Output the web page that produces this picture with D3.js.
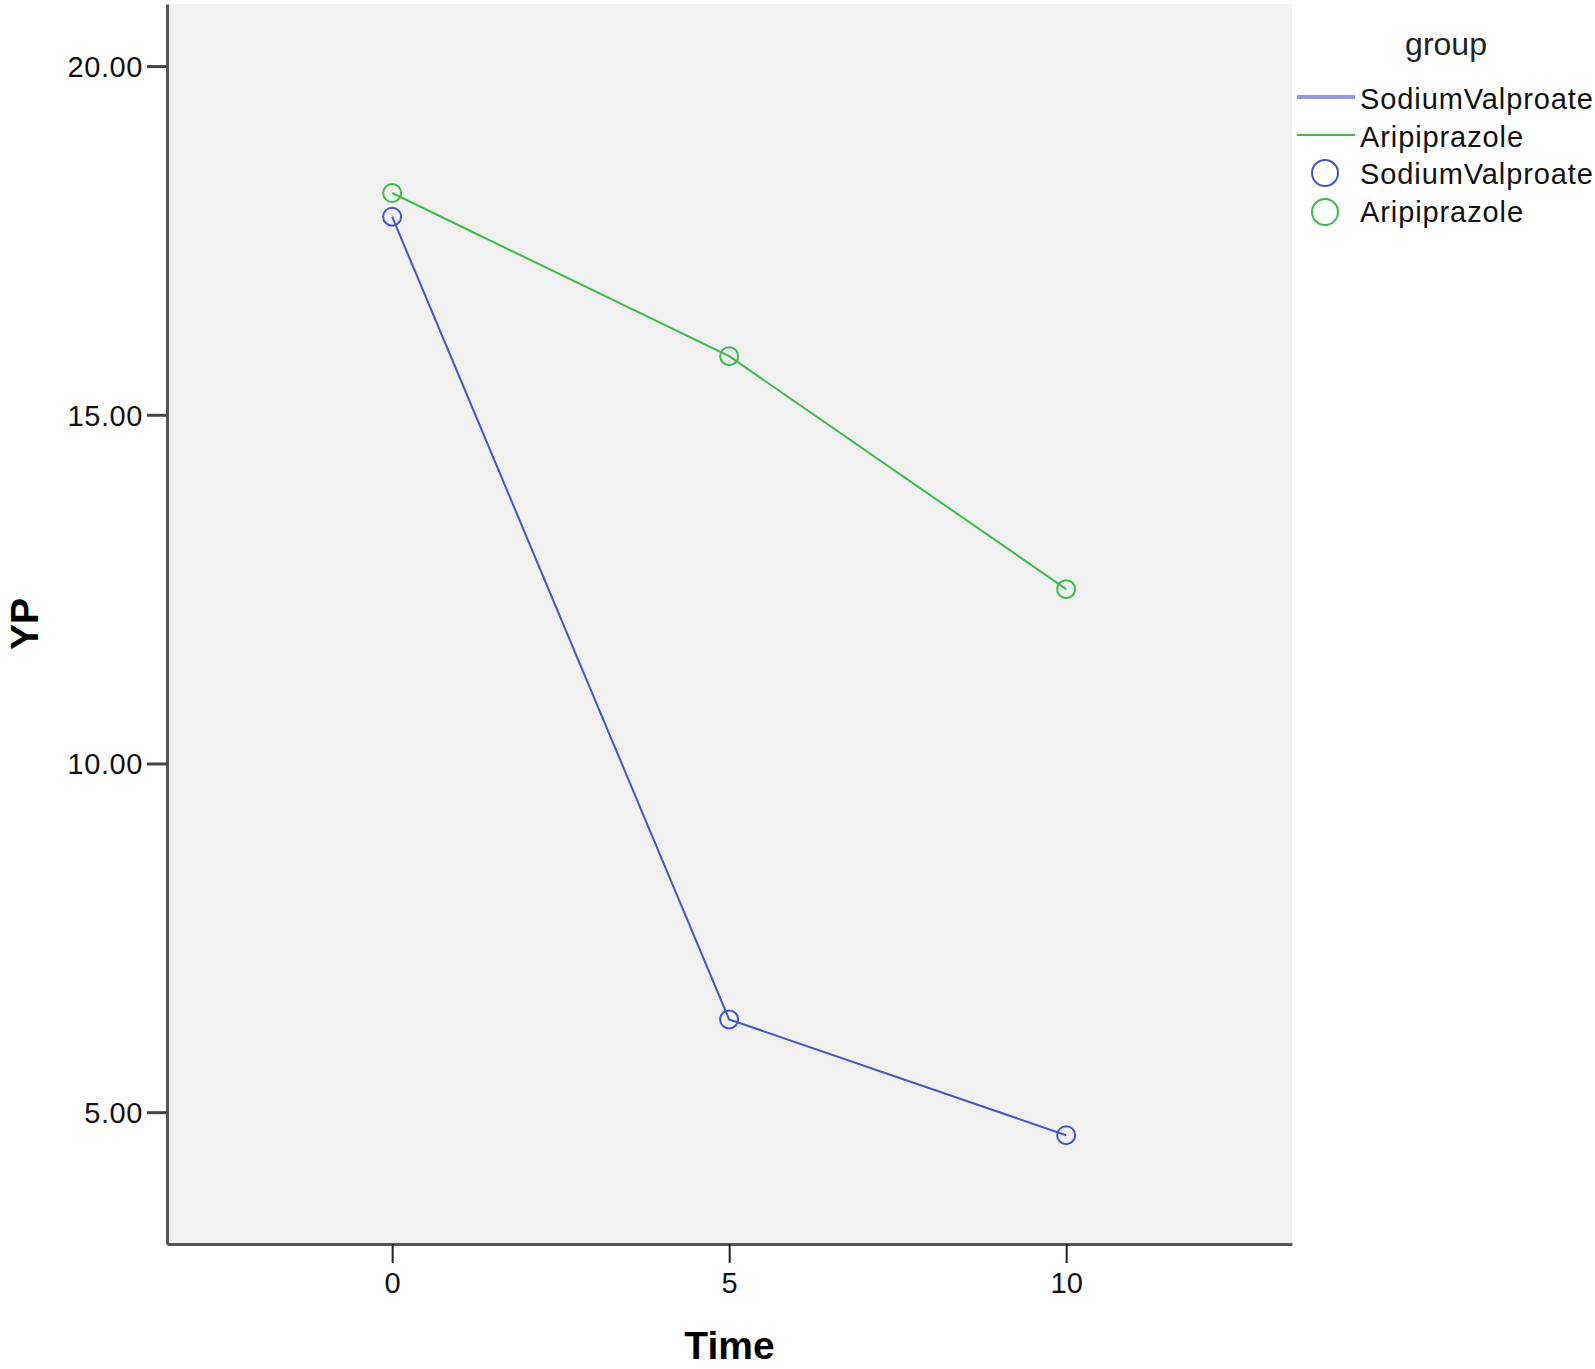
<!DOCTYPE html>
<html>
<head>
<meta charset="utf-8">
<script src="https://cdn.jsdelivr.net/npm/d3@7"></script>
<style>
  body { margin: 0; background: #fff; }
  svg { display: block; font-family: "Liberation Sans", Arial, sans-serif; }
</style>
</head>
<body>
<div id="chart"></div>
<script>
// values
const times = [0, 5, 10]
const valproate = [17.84, 6.33, 4.67]
const aripiprazole = [18.18, 15.84, 12.50]
const yTicks = [5, 10, 15, 20]
const xTicks = [0, 5, 10]
const groups = ["SodiumValproate", "Aripiprazole"]

const width = 1595, height = 1369
const margin = {top: 4, right: 303, bottom: 125, left: 167}
const blue = "#4256c4", green = "#3dba4a"

const svg = d3.select("#chart").append("svg")
    .attr("width", width)
    .attr("height", height)

let x = d3.scaleLinear()
    .domain([-3.34, 13.35])
    .range([margin.left, width - margin.right])

let y = d3.scaleLinear()
    .domain([3.11, 20.89])
    .range([height - margin.bottom, margin.top])

// plot background
svg.append("rect")
    .attr("x", margin.left)
    .attr("y", margin.top)
    .attr("width", width - margin.right - margin.left)
    .attr("height", height - margin.bottom - margin.top)
    .attr("fill", "#f0f0f0")

// axes
let yAxis = svg.append("g")
    .attr("transform", `translate(${margin.left},0)`)
    .call(d3.axisLeft(y).tickValues(yTicks).tickFormat(d3.format(".2f")).tickSize(20).tickSizeOuter(0))
yAxis.select(".domain").attr("stroke", "#555").attr("stroke-width", 3)
yAxis.selectAll(".tick line").attr("stroke", "#444").attr("stroke-width", 3)
yAxis.selectAll(".tick text")
    .attr("font-size", 29).attr("fill", "#111").attr("x", -24).attr("dy", "0.36em")
    .attr("letter-spacing", 0.6)
    .attr("font-family", "'Liberation Sans', Arial, sans-serif")

let xAxis = svg.append("g")
    .attr("transform", `translate(0,${height - margin.bottom})`)
    .call(d3.axisBottom(x).tickValues(xTicks).tickSize(19).tickSizeOuter(0))
xAxis.select(".domain").attr("stroke", "#555").attr("stroke-width", 3)
xAxis.selectAll(".tick line").attr("stroke", "#222").attr("stroke-width", 2)
xAxis.selectAll(".tick text")
    .attr("font-size", 29).attr("fill", "#111").attr("y", 28).attr("dy", "0.71em")
    .attr("font-family", "'Liberation Sans', Arial, sans-serif")

// axis titles
svg.append("text")
    .attr("x", (x(-3.34) + x(13.35)) / 2 + 0)
    .attr("y", 1359)
    .attr("text-anchor", "middle")
    .attr("font-size", 39).attr("font-weight", "bold")
    .text("Time")

svg.append("text")
    .attr("transform", `translate(38,${(y(3.11) + y(20.89)) / 2}) rotate(-90)`)
    .attr("text-anchor", "middle")
    .attr("font-size", 39).attr("font-weight", "bold")
    .text("YP")

// series
let series = [
    {name: groups[0], values: valproate, color: blue},
    {name: groups[1], values: aripiprazole, color: green}
]

let line = d3.line()
    .x(function(d) { return x(d[0]) })
    .y(function(d) { return y(d[1]) })

series.forEach(function(s) {
    let pts = times.map(function(t, i) { return [t, s.values[i]] })
    svg.append("path")
        .datum(pts)
        .attr("d", line)
        .attr("fill", "none")
        .attr("stroke", s.color)
        .attr("stroke-width", 2)
    svg.selectAll(null)
        .data(pts)
        .enter()
        .append("circle")
            .attr("cx", function(d) { return x(d[0]) })
            .attr("cy", function(d) { return y(d[1]) })
            .attr("r", 9)
            .attr("fill", "none")
            .attr("stroke", s.color)
            .attr("stroke-width", 2)
})

// legend
let lg = svg.append("g")
lg.append("text")
    .attr("x", 1446).attr("y", 55)
    .attr("text-anchor", "middle")
    .attr("font-size", 32).attr("fill", "#222")
    .text("group")

lg.append("line")
    .attr("x1", 1297).attr("x2", 1355).attr("y1", 97).attr("y2", 97)
    .attr("stroke", "#8d9bd8").attr("stroke-width", 4)
lg.append("line")
    .attr("x1", 1297).attr("x2", 1355).attr("y1", 135).attr("y2", 135)
    .attr("stroke", green).attr("stroke-width", 2)
lg.append("circle")
    .attr("cx", 1325).attr("cy", 173).attr("r", 13)
    .attr("fill", "none").attr("stroke", blue).attr("stroke-width", 2)
lg.append("circle")
    .attr("cx", 1325).attr("cy", 212).attr("r", 13)
    .attr("fill", "none").attr("stroke", green).attr("stroke-width", 2)

let labels = [groups[0], groups[1], groups[0], groups[1]]
lg.selectAll(".item")
    .data(labels)
    .enter()
    .append("text")
        .attr("class", "item")
        .attr("x", 1360)
        .attr("y", function(d, i) { return 109 + i * 37.5 })
        .attr("font-size", 29).attr("fill", "#111")
        .attr("letter-spacing", 0.9)
        .text(function(d) { return d })
</script>
</body>
</html>
